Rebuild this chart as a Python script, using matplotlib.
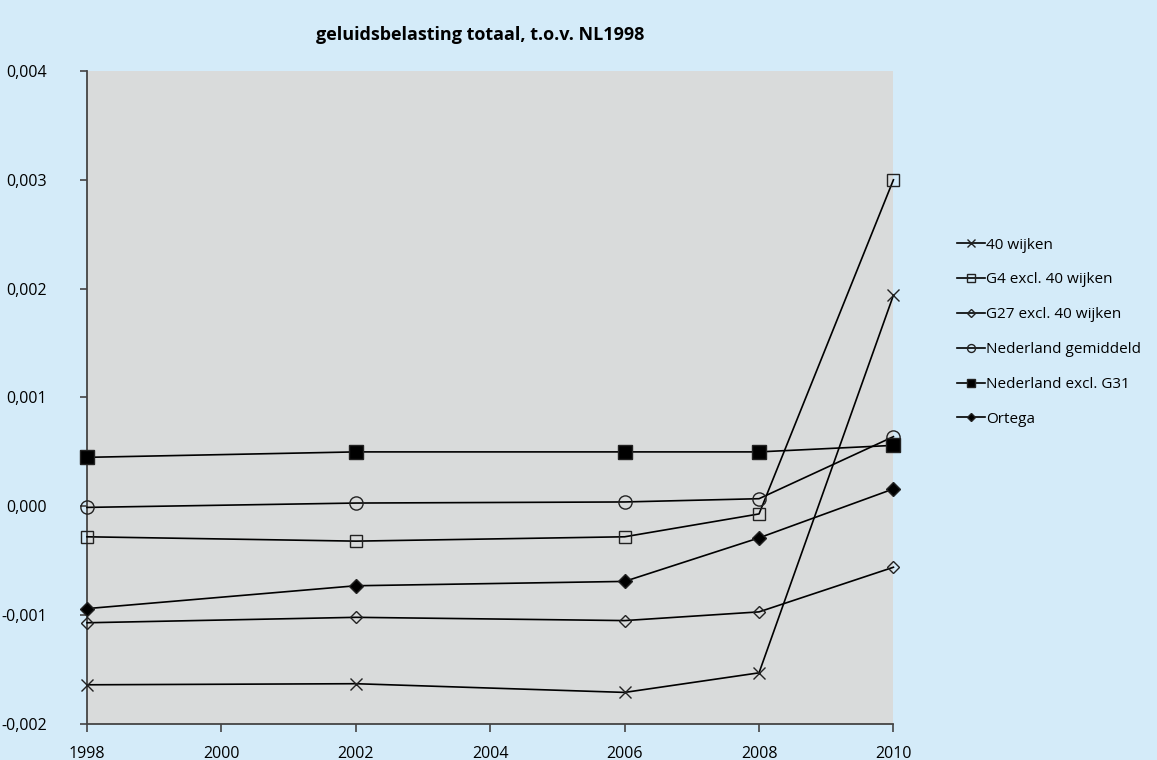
import matplotlib.pyplot as plt
from matplotlib.ticker import FuncFormatter

plt.rcParams['font.family'] = ['Open Sans', 'DejaVu Sans']

jaren = [1998, 2002, 2006, 2008, 2010]

wijken40 = [-0.00164, -0.00163, -0.00171, -0.00153, 0.00194]
g4 = [-0.00028, -0.00032, -0.00028, -0.00007, 0.00300]
g27 = [-0.00107, -0.00102, -0.00105, -0.00097, -0.00056]
nl_gem = [-0.00001, 0.00003, 0.00004, 0.00007, 0.00064]
nl_excl = [0.00045, 0.00050, 0.00050, 0.00050, 0.00056]
ortega = [-0.00094, -0.00073, -0.00069, -0.00029, 0.00016]

namen = ['40 wijken', 'G4 excl. 40 wijken', 'G27 excl. 40 wijken',
         'Nederland gemiddeld', 'Nederland excl. G31', 'Ortega']

bg = '#d4ebf9'
fig = plt.figure(figsize=(11.57, 7.6), dpi=100, facecolor=bg)
ax = fig.add_axes([0.0752, 0.0474, 0.697, 0.8592])
ax.set_facecolor('#d9dbdb')

# (marker, size, facecolor)
stijl = [('x', 9, 'none'), ('s', 9, 'none'), ('D', 6.5, 'none'),
         ('o', 9.5, 'none'), ('s', 9.5, 'black'), ('D', 7, 'black')]

for reeks, naam, (m, ms, fc) in zip([wijken40, g4, g27, nl_gem, nl_excl, ortega], namen, stijl):
    ax.plot(jaren, reeks, color='black', lw=1.2, marker=m, markersize=ms,
            markerfacecolor=fc, markeredgecolor='#222222', markeredgewidth=1.0,
            label=naam, clip_on=False, zorder=3)

ax.set_xlim(1998, 2010)
ax.set_ylim(-0.002, 0.004)
ax.set_xticks(range(1998, 2011, 2))
ax.set_yticks([-0.002, -0.001, 0, 0.001, 0.002, 0.003, 0.004])
ax.yaxis.set_major_formatter(FuncFormatter(lambda v, p: ('%.3f' % v).replace('.', ',')))

for s in ['top', 'right']:
    ax.spines[s].set_visible(False)
for s in ['left', 'bottom']:
    ax.spines[s].set_color('#444444')
    ax.spines[s].set_linewidth(1.3)

ax.tick_params(axis='y', direction='out', length=5, width=1.2, color='#444444',
               labelsize=11.5, pad=24)
ax.tick_params(axis='x', direction='out', length=6, width=1.2, color='#444444',
               labelsize=11.5, pad=10)

fig.text(0.415, 0.954, 'geluidsbelasting totaal, t.o.v. NL1998', ha='center',
         va='center', fontsize=13, fontweight='bold')

leg = ax.legend(loc='center left', bbox_to_anchor=(1.062, 0.60), frameon=False,
                fontsize=11, markerscale=0.6, handlelength=1.8, handletextpad=0.1,
                labelspacing=1.3)

fig.savefig('out.png', dpi=100, facecolor=bg)
